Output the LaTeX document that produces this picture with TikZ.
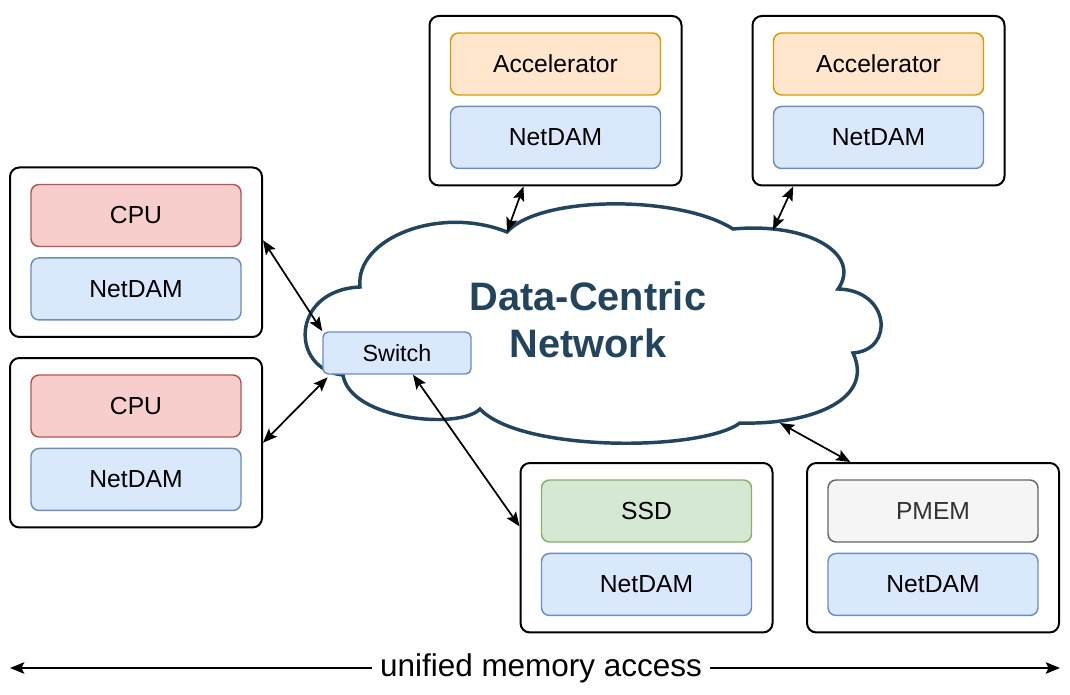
\documentclass[tikz,border=0pt]{standalone}
\usepackage{fontspec}
\setmainfont{Liberation Sans}
\usetikzlibrary{positioning,fit,arrows.meta}

\definecolor{cpufill}{HTML}{F8CECC}
\definecolor{cpuline}{HTML}{B85450}
\definecolor{damfill}{HTML}{DAE8FC}
\definecolor{damline}{HTML}{6C8EBF}
\definecolor{accfill}{HTML}{FFE6CC}
\definecolor{accline}{HTML}{D79B00}
\definecolor{ssdfill}{HTML}{D5E8D4}
\definecolor{ssdline}{HTML}{82B366}
\definecolor{pmemfill}{HTML}{F5F5F5}
\definecolor{pmemline}{HTML}{666666}
\definecolor{pmemtext}{HTML}{333333}
\definecolor{cloudline}{HTML}{23445D}

\tikzset{
  part/.style={draw, line width=1.1pt, rounded corners=6pt,
    minimum width=157.5pt, minimum height=46.5pt,
    font=\fontsize{18.5}{22}\selectfont},
  cpu/.style={part, fill=cpufill, draw=cpuline},
  dam/.style={part, fill=damfill, draw=damline},
  acc/.style={part, fill=accfill, draw=accline},
  ssd/.style={part, fill=ssdfill, draw=ssdline},
  pmem/.style={part, fill=pmemfill, draw=pmemline, text=pmemtext},
  unit/.style={draw=black, line width=1.5pt, rounded corners=7pt,
    inner xsep=15.2pt, inner ysep=12.2pt},
  link/.style={line width=1.3pt,
    arrows={Stealth[length=7.5mm,width=6mm,inset=1.5mm,scale=0.5]-Stealth[length=7.5mm,width=6mm,inset=1.5mm,scale=0.5]}},
}

\begin{document}
\begin{tikzpicture}[x=0.75pt,y=-0.75pt]
  \useasboundingbox (0,0) rectangle (1070,695);

  % Cloud
  \draw[cloudline, fill=white, line width=2.6pt, line join=miter]
    (360,287) coordinate (cl-a)
    .. controls (355,238) and (440,205) .. (507,232) coordinate (cl-b)
    .. controls (540,195) and (680,195) .. (733,229) coordinate (cl-c)
    .. controls (810,222) and (862,255) .. (838,289) coordinate (cl-d)
    .. controls (890,290) and (895,350) .. (853,353) coordinate (cl-e)
    .. controls (875,400) and (810,425) .. (740,423) coordinate (cl-f)
    .. controls (700,452) and (520,452) .. (480,409) coordinate (cl-g)
    .. controls (460,430) and (350,420) .. (343,375) coordinate (cl-h)
    .. controls (290,370) and (290,290) .. cycle;
  \coordinate (cl-acc) at (773,230);
  \coordinate (cl-pmem) at (780,423);
  \node[text=cloudline, font=\fontsize{29.8}{35.3}\selectfont\bfseries, align=center]
    (dcn) at (588,320) {Data-Centric\\Network} ;

  \node[dam, rounded corners=4pt, minimum width=111pt, minimum height=31.5pt,
    font=\fontsize{17.5}{21}\selectfont] (switch) at (397,353) {Switch} ;

  % Nodes
  % CPUs
  \node[cpu] (cpu1) at (136,215.5) {CPU} ;
  \node[dam, below=7.5pt of cpu1] (dam1) {NetDAM} ;
  \node[unit, fit=(cpu1)(dam1)] (u1) {} ;

  \node[cpu] (cpu2) at (136,406) {CPU} ;
  \node[dam, below=7.5pt of cpu2] (dam2) {NetDAM} ;
  \node[unit, fit=(cpu2)(dam2)] (u2) {} ;

  % Accelerators
  \node[acc] (acc1) at (555.5,64) {Accelerator} ;
  \node[dam, below=7.5pt of acc1] (dam3) {NetDAM} ;
  \node[unit, fit=(acc1)(dam3)] (a1) {} ;

  \node[acc] (acc2) at (878.5,64) {Accelerator} ;
  \node[dam, below=7.5pt of acc2] (dam4) {NetDAM} ;
  \node[unit, fit=(acc2)(dam4)] (a2) {} ;

  % Storage
  \node[ssd] (ssd) at (646.5,511) {SSD} ;
  \node[dam, below=7.5pt of ssd] (dam5) {NetDAM} ;
  \node[unit, fit=(ssd)(dam5)] (s1) {} ;

  \node[pmem] (pmem) at (933,511) {PMEM} ;
  \node[dam, below=7.5pt of pmem] (dam6) {NetDAM} ;
  \node[unit, fit=(pmem)(dam6)] (p1) {} ;

  % Connect the nodes
  \draw[link] ([yshift=9pt]u1.east) -- (switch.north west) ; %
  \draw[link] (u2.east) -- ([xshift=4pt,yshift=-2pt]switch.south west) ; %
  \draw[link] ([xshift=-24pt]a1.south) -- (cl-b) ; %
  \draw[link] ([xshift=-64pt]a2.south) -- (cl-acc) ; %
  \draw[link] ([xshift=12pt]switch.south) -- ([yshift=16pt]s1.west) ; %
  \draw[link] (cl-pmem) -- ([xshift=-62pt]p1.north) ; %

  % Memory access
  \coordinate (uma-l) at (10,668) ;
  \coordinate (uma-r) at (1060,668) ;
  \draw[link, line width=1.6pt] (uma-l) -- (uma-r) ;
  \node[fill=white, inner xsep=6pt, font=\fontsize{23.6}{28}\selectfont]
    (uma) at (541,668) {unified memory access} ;
\end{tikzpicture}
\end{document}
